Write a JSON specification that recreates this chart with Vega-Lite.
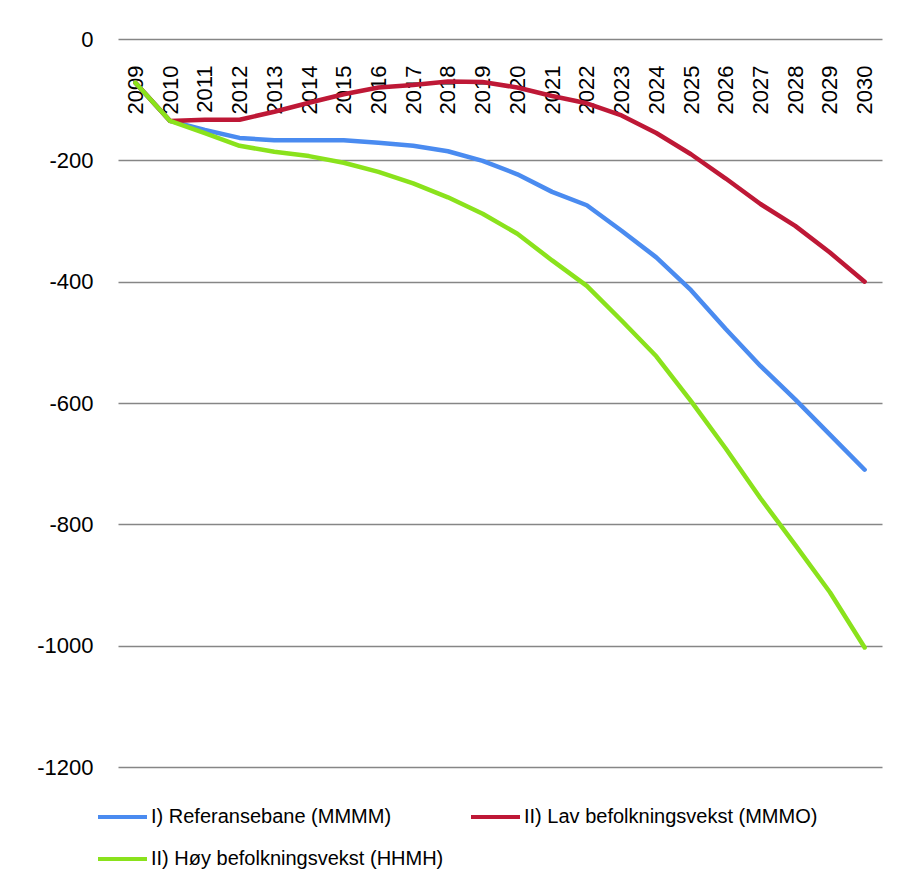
{
  "$schema": "https://vega.github.io/schema/vega-lite/v6.json",
  "width": 764,
  "height": 728,
  "autosize": {"type": "none"},
  "padding": {"left": 118, "top": 39, "right": 17, "bottom": 118},
  "background": "white",
  "config": {
    "view": {"stroke": null},
    "font": "Liberation Sans"
  },
  "data": {
    "values": [
      {"year": "2009", "series": "I) Referansebane (MMMM)", "value": -72},
      {"year": "2010", "series": "I) Referansebane (MMMM)", "value": -135},
      {"year": "2011", "series": "I) Referansebane (MMMM)", "value": -150},
      {"year": "2012", "series": "I) Referansebane (MMMM)", "value": -163},
      {"year": "2013", "series": "I) Referansebane (MMMM)", "value": -167},
      {"year": "2014", "series": "I) Referansebane (MMMM)", "value": -167},
      {"year": "2015", "series": "I) Referansebane (MMMM)", "value": -167},
      {"year": "2016", "series": "I) Referansebane (MMMM)", "value": -171},
      {"year": "2017", "series": "I) Referansebane (MMMM)", "value": -176},
      {"year": "2018", "series": "I) Referansebane (MMMM)", "value": -185},
      {"year": "2019", "series": "I) Referansebane (MMMM)", "value": -201},
      {"year": "2020", "series": "I) Referansebane (MMMM)", "value": -223},
      {"year": "2021", "series": "I) Referansebane (MMMM)", "value": -252},
      {"year": "2022", "series": "I) Referansebane (MMMM)", "value": -274},
      {"year": "2023", "series": "I) Referansebane (MMMM)", "value": -316},
      {"year": "2024", "series": "I) Referansebane (MMMM)", "value": -360},
      {"year": "2025", "series": "I) Referansebane (MMMM)", "value": -414},
      {"year": "2026", "series": "I) Referansebane (MMMM)", "value": -478},
      {"year": "2027", "series": "I) Referansebane (MMMM)", "value": -539},
      {"year": "2028", "series": "I) Referansebane (MMMM)", "value": -594},
      {"year": "2029", "series": "I) Referansebane (MMMM)", "value": -652},
      {"year": "2030", "series": "I) Referansebane (MMMM)", "value": -710},
      {"year": "2009", "series": "II) Lav befolkningsvekst  (MMMO)", "value": -72},
      {"year": "2010", "series": "II) Lav befolkningsvekst  (MMMO)", "value": -135},
      {"year": "2011", "series": "II) Lav befolkningsvekst  (MMMO)", "value": -133},
      {"year": "2012", "series": "II) Lav befolkningsvekst  (MMMO)", "value": -133},
      {"year": "2013", "series": "II) Lav befolkningsvekst  (MMMO)", "value": -120},
      {"year": "2014", "series": "II) Lav befolkningsvekst  (MMMO)", "value": -105},
      {"year": "2015", "series": "II) Lav befolkningsvekst  (MMMO)", "value": -91},
      {"year": "2016", "series": "II) Lav befolkningsvekst  (MMMO)", "value": -80},
      {"year": "2017", "series": "II) Lav befolkningsvekst  (MMMO)", "value": -76},
      {"year": "2018", "series": "II) Lav befolkningsvekst  (MMMO)", "value": -70},
      {"year": "2019", "series": "II) Lav befolkningsvekst  (MMMO)", "value": -71},
      {"year": "2020", "series": "II) Lav befolkningsvekst  (MMMO)", "value": -80},
      {"year": "2021", "series": "II) Lav befolkningsvekst  (MMMO)", "value": -94},
      {"year": "2022", "series": "II) Lav befolkningsvekst  (MMMO)", "value": -106},
      {"year": "2023", "series": "II) Lav befolkningsvekst  (MMMO)", "value": -126},
      {"year": "2024", "series": "II) Lav befolkningsvekst  (MMMO)", "value": -155},
      {"year": "2025", "series": "II) Lav befolkningsvekst  (MMMO)", "value": -190},
      {"year": "2026", "series": "II) Lav befolkningsvekst  (MMMO)", "value": -230},
      {"year": "2027", "series": "II) Lav befolkningsvekst  (MMMO)", "value": -272},
      {"year": "2028", "series": "II) Lav befolkningsvekst  (MMMO)", "value": -308},
      {"year": "2029", "series": "II) Lav befolkningsvekst  (MMMO)", "value": -352},
      {"year": "2030", "series": "II) Lav befolkningsvekst  (MMMO)", "value": -400},
      {"year": "2009", "series": "II) Høy befolkningsvekst  (HHMH)", "value": -72},
      {"year": "2010", "series": "II) Høy befolkningsvekst  (HHMH)", "value": -135},
      {"year": "2011", "series": "II) Høy befolkningsvekst  (HHMH)", "value": -155},
      {"year": "2012", "series": "II) Høy befolkningsvekst  (HHMH)", "value": -176},
      {"year": "2013", "series": "II) Høy befolkningsvekst  (HHMH)", "value": -186},
      {"year": "2014", "series": "II) Høy befolkningsvekst  (HHMH)", "value": -193},
      {"year": "2015", "series": "II) Høy befolkningsvekst  (HHMH)", "value": -204},
      {"year": "2016", "series": "II) Høy befolkningsvekst  (HHMH)", "value": -219},
      {"year": "2017", "series": "II) Høy befolkningsvekst  (HHMH)", "value": -238},
      {"year": "2018", "series": "II) Høy befolkningsvekst  (HHMH)", "value": -261},
      {"year": "2019", "series": "II) Høy befolkningsvekst  (HHMH)", "value": -288},
      {"year": "2020", "series": "II) Høy befolkningsvekst  (HHMH)", "value": -321},
      {"year": "2021", "series": "II) Høy befolkningsvekst  (HHMH)", "value": -365},
      {"year": "2022", "series": "II) Høy befolkningsvekst  (HHMH)", "value": -407},
      {"year": "2023", "series": "II) Høy befolkningsvekst  (HHMH)", "value": -464},
      {"year": "2024", "series": "II) Høy befolkningsvekst  (HHMH)", "value": -523},
      {"year": "2025", "series": "II) Høy befolkningsvekst  (HHMH)", "value": -597},
      {"year": "2026", "series": "II) Høy befolkningsvekst  (HHMH)", "value": -675},
      {"year": "2027", "series": "II) Høy befolkningsvekst  (HHMH)", "value": -757},
      {"year": "2028", "series": "II) Høy befolkningsvekst  (HHMH)", "value": -834},
      {"year": "2029", "series": "II) Høy befolkningsvekst  (HHMH)", "value": -912},
      {"year": "2030", "series": "II) Høy befolkningsvekst  (HHMH)", "value": -1003}
    ]
  },
  "mark": {"type": "line", "strokeWidth": 4.5, "strokeCap": "round", "strokeJoin": "round"},
  "encoding": {
    "x": {
      "field": "year",
      "type": "ordinal",
      "sort": null,
      "scale": {"type": "point", "padding": 0.5},
      "axis": {
        "orient": "bottom",
        "offset": -728,
        "title": null,
        "domain": false,
        "ticks": false,
        "grid": false,
        "labelAngle": -90,
        "labelAlign": "right",
        "labelBaseline": "middle",
        "labelPadding": 26,
        "labelFontSize": 22,
        "labelColor": "#000000",
        "labelFont": "Liberation Sans"
      }
    },
    "y": {
      "field": "value",
      "type": "quantitative",
      "scale": {"domain": [-1200, 0], "nice": false, "zero": false},
      "axis": {
        "title": null,
        "values": [0, -200, -400, -600, -800, -1000, -1200],
        "labelExpr": "datum.value + ''",
        "domain": false,
        "ticks": false,
        "grid": true,
        "gridColor": "#868686",
        "gridWidth": 1.5,
        "labelPadding": 25,
        "labelFontSize": 22,
        "labelColor": "#000000",
        "labelFont": "Liberation Sans"
      }
    },
    "color": {
      "field": "series",
      "type": "nominal",
      "sort": null,
      "scale": {
        "domain": ["I) Referansebane (MMMM)", "II) Lav befolkningsvekst  (MMMO)", "II) Høy befolkningsvekst  (HHMH)"],
        "range": ["#4A8BF0", "#BE1836", "#8AE21C"]
      },
      "legend": {
        "title": null,
        "orient": "none",
        "legendX": -22,
        "legendY": 768,
        "direction": "horizontal",
        "columns": 2,
        "columnPadding": 20,
        "rowPadding": 22,
        "padding": 0,
        "symbolType": "stroke",
        "symbolSize": 2400,
        "symbolStrokeWidth": 4,
        "clipHeight": 20,
        "labelFontSize": 20,
        "labelFont": "Liberation Sans",
        "labelColor": "#000000",
        "labelOffset": 2,
        "labelLimit": 500
      }
    }
  }
}
